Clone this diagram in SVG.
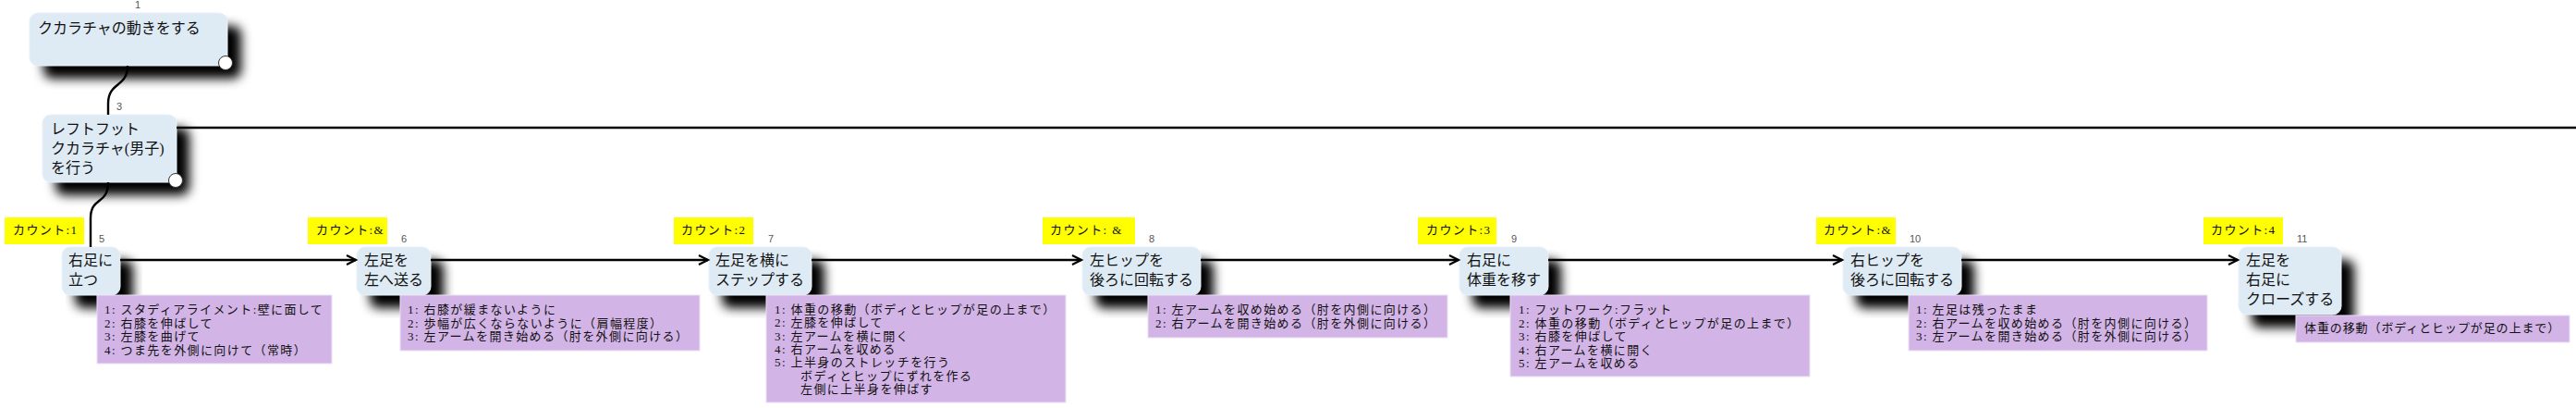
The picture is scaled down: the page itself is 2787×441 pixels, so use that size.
<svg xmlns="http://www.w3.org/2000/svg" width="2787" height="441" viewBox="0 0 2787 441">
<defs>
<style>
.box{fill:#deebf5;stroke:#e8f1f8;stroke-width:1}
.sh{fill:#000;filter:url(#blur)}
.nt{font-family:"Liberation Serif","Noto Sans CJK JP",serif;font-size:16px;fill:#111}
.num{font-family:"Liberation Sans",Arial,sans-serif;font-size:11px;fill:#555}
.cnt{fill:#ffff00}
.ct{font-family:"Liberation Serif","Noto Sans CJK JP",serif;font-size:13px;letter-spacing:1.4px;fill:#111}
.note{fill:#d3b4e7;stroke:#ecdff5;stroke-width:1}
.ntx{font-family:"Liberation Serif","Noto Sans CJK JP",serif;font-size:13px;letter-spacing:1.4px;fill:#111}
.dot{fill:#fff;stroke:#333;stroke-width:1}
.ln{fill:none;stroke:#000;stroke-width:2.4}
</style>
<filter id="blur" x="-15%" y="-20%" width="130%" height="140%">
<feGaussianBlur stdDeviation="6"/>
</filter>
<marker id="arr" markerUnits="userSpaceOnUse" markerWidth="14" markerHeight="14" refX="11" refY="6" orient="auto">
<path d="M1,1 L11,6 L1,11" fill="none" stroke="#000" stroke-width="2.2"/>
</marker>
</defs>
<rect width="2787" height="441" fill="#fff"/>

<g id="node1">
<rect class="sh" x="47" y="28" width="214" height="57" rx="9"/>
<rect class="box" x="32" y="14" width="214" height="57" rx="9"/>
<text class="nt" x="41" y="36">クカラチャの動きをする</text>
<circle class="dot" cx="244" cy="68" r="7.5"/>
<text class="num" x="146" y="9">1</text>
</g>

<g id="node3">
<rect class="sh" x="60" y="138" width="145" height="73" rx="9"/>
<rect class="box" x="46" y="124" width="145" height="73" rx="9"/>
<text class="nt"><tspan x="55" y="145">レフトフット</tspan><tspan x="55" y="166">クカラチャ(男子)</tspan><tspan x="55" y="187">を行う</tspan></text>
<circle class="dot" cx="190" cy="195" r="7.5"/>
<text class="num" x="126" y="119">3</text>
</g>

<g id="node5">
<rect class="sh" x="81" y="281" width="63" height="52" rx="9"/>
<rect class="box" x="67" y="267" width="63" height="52" rx="9"/>
<text class="nt"><tspan x="74" y="287">右足に</tspan><tspan x="74" y="308">立つ</tspan></text>
<text class="num" x="107" y="262">5</text>
<rect class="cnt" x="5" y="235" width="86" height="29"/>
<text class="ct" x="14" y="253">カウント:1</text>
<rect class="note" x="105" y="319" width="254" height="74"/>
<text class="ntx"><tspan x="113" y="339">1: スタディアライメント:壁に面して</tspan><tspan x="113" y="353.6">2: 右膝を伸ばして</tspan><tspan x="113" y="368.2">3: 左膝を曲げて</tspan><tspan x="113" y="382.8">4: つま先を外側に向けて（常時）</tspan></text>
</g>

<g id="node6">
<rect class="sh" x="400" y="281" width="80" height="52" rx="9"/>
<rect class="box" x="386" y="267" width="80" height="52" rx="9"/>
<text class="nt"><tspan x="394" y="287">左足を</tspan><tspan x="394" y="308">左へ送る</tspan></text>
<text class="num" x="434" y="262">6</text>
<rect class="cnt" x="333" y="235" width="86" height="29"/>
<text class="ct" x="342" y="253">カウント:&amp;</text>
<rect class="note" x="433" y="319" width="324" height="60"/>
<text class="ntx"><tspan x="441" y="339">1: 右膝が緩まないように</tspan><tspan x="441" y="353.6">2: 歩幅が広くならないように（肩幅程度）</tspan><tspan x="441" y="368.2">3: 左アームを開き始める（肘を外側に向ける）</tspan></text>
</g>

<g id="node7">
<rect class="sh" x="781" y="281" width="111" height="52" rx="9"/>
<rect class="box" x="767" y="267" width="111" height="52" rx="9"/>
<text class="nt"><tspan x="774" y="287">左足を横に</tspan><tspan x="774" y="308">ステップする</tspan></text>
<text class="num" x="831" y="262">7</text>
<rect class="cnt" x="729" y="235" width="86" height="29"/>
<text class="ct" x="737" y="253">カウント:2</text>
<rect class="note" x="829" y="319" width="324" height="116"/>
<text class="ntx"><tspan x="838" y="339">1: 体重の移動（ボディとヒップが足の上まで）</tspan><tspan x="838" y="353.3">2: 左膝を伸ばして</tspan><tspan x="838" y="367.6">3: 左アームを横に開く</tspan><tspan x="838" y="381.9">4: 右アームを収める</tspan><tspan x="838" y="396.2">5: 上半身のストレッチを行う</tspan><tspan x="866" y="410.5">ボディとヒップにずれを作る</tspan><tspan x="866" y="424.8">左側に上半身を伸ばす</tspan></text>
</g>

<g id="node8">
<rect class="sh" x="1185" y="281" width="128" height="52" rx="9"/>
<rect class="box" x="1171" y="267" width="128" height="52" rx="9"/>
<text class="nt"><tspan x="1179" y="287">左ヒップを</tspan><tspan x="1179" y="308">後ろに回転する</tspan></text>
<text class="num" x="1243" y="262">8</text>
<rect class="cnt" x="1128" y="235" width="100" height="29"/>
<text class="ct" x="1136" y="253">カウント: &amp;</text>
<rect class="note" x="1242" y="319" width="324" height="46"/>
<text class="ntx"><tspan x="1250" y="339">1: 左アームを収め始める（肘を内側に向ける）</tspan><tspan x="1250" y="353.6">2: 右アームを開き始める（肘を外側に向ける）</tspan></text>
</g>

<g id="node9">
<rect class="sh" x="1593" y="281" width="96" height="52" rx="9"/>
<rect class="box" x="1579" y="267" width="96" height="52" rx="9"/>
<text class="nt"><tspan x="1587" y="287">右足に</tspan><tspan x="1587" y="308">体重を移す</tspan></text>
<text class="num" x="1635" y="262">9</text>
<rect class="cnt" x="1534" y="235" width="85" height="29"/>
<text class="ct" x="1543" y="253">カウント:3</text>
<rect class="note" x="1634" y="319" width="324" height="88"/>
<text class="ntx"><tspan x="1643" y="339">1: フットワーク:フラット</tspan><tspan x="1643" y="353.5">2: 体重の移動（ボディとヒップが足の上まで）</tspan><tspan x="1643" y="368">3: 右膝を伸ばして</tspan><tspan x="1643" y="382.5">4: 右アームを横に開く</tspan><tspan x="1643" y="397">5: 左アームを収める</tspan></text>
</g>

<g id="node10">
<rect class="sh" x="2008" y="281" width="128" height="52" rx="9"/>
<rect class="box" x="1994" y="267" width="128" height="52" rx="9"/>
<text class="nt"><tspan x="2002" y="287">右ヒップを</tspan><tspan x="2002" y="308">後ろに回転する</tspan></text>
<text class="num" x="2066" y="262">10</text>
<rect class="cnt" x="1965" y="235" width="86" height="29"/>
<text class="ct" x="1973" y="253">カウント:&amp;</text>
<rect class="note" x="2065" y="319" width="323" height="60"/>
<text class="ntx"><tspan x="2073" y="339">1: 左足は残ったまま</tspan><tspan x="2073" y="353.6">2: 右アームを収め始める（肘を内側に向ける）</tspan><tspan x="2073" y="368.2">3: 左アームを開き始める（肘を外側に向ける）</tspan></text>
</g>

<g id="node11">
<rect class="sh" x="2436" y="281" width="111" height="73" rx="9"/>
<rect class="box" x="2422" y="267" width="111" height="73" rx="9"/>
<text class="nt"><tspan x="2430" y="287">左足を</tspan><tspan x="2430" y="308">右足に</tspan><tspan x="2430" y="329">クローズする</tspan></text>
<text class="num" x="2485" y="262">11</text>
<rect class="cnt" x="2384" y="235" width="86" height="29"/>
<text class="ct" x="2392" y="253">カウント:4</text>
<rect class="note" x="2484" y="341" width="296" height="29"/>
<text class="ntx" x="2493" y="359" style="letter-spacing:0.9px">体重の移動（ボディとヒップが足の上まで）</text>
</g>

<g id="connectors">
<path class="ln" d="M138,71 C138,95 117,88 117,112 L117,124"/>
<path class="ln" d="M117,197 C117,222 98,212 98,236 L98,267"/>
<path class="ln" d="M191,138 H2787"/>
<path class="ln" d="M130,281 H385" marker-end="url(#arr)"/>
<path class="ln" d="M466,281 H766" marker-end="url(#arr)"/>
<path class="ln" d="M878,281 H1170" marker-end="url(#arr)"/>
<path class="ln" d="M1299,281 H1578" marker-end="url(#arr)"/>
<path class="ln" d="M1675,281 H1993" marker-end="url(#arr)"/>
<path class="ln" d="M2122,281 H2421" marker-end="url(#arr)"/>
</g>
</svg>
